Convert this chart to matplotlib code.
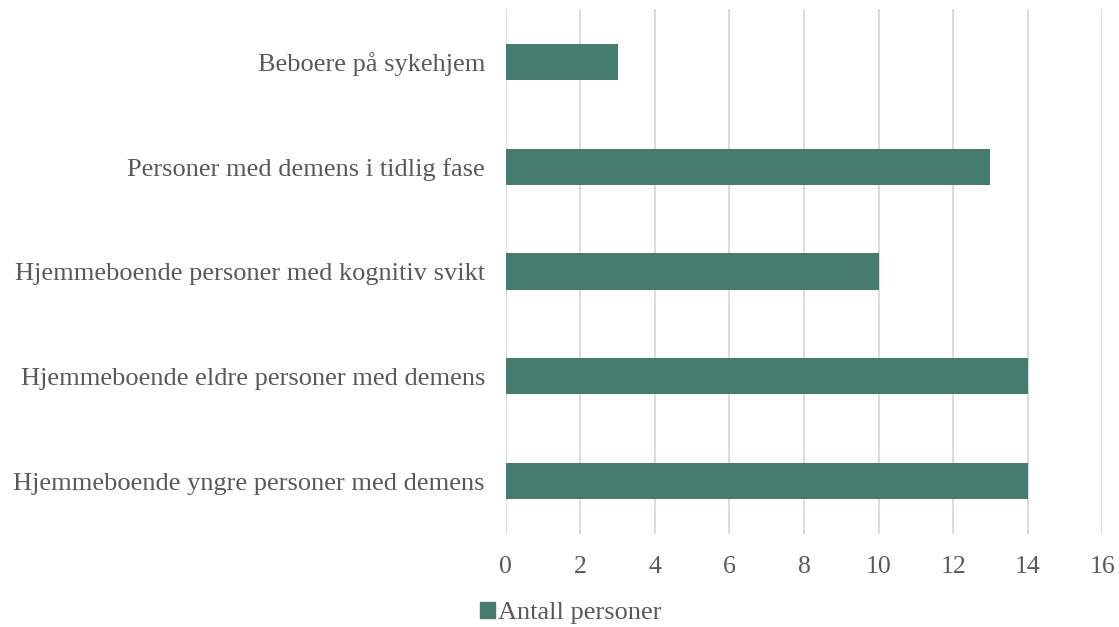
import matplotlib.pyplot as plt
from matplotlib.patches import Patch

plt.rcParams['font.family'] = ['Liberation Serif', 'DejaVu Serif']

categories = [
    'Hjemmeboende yngre personer med demens',
    'Hjemmeboende eldre personer med demens',
    'Hjemmeboende personer med kognitiv svikt',
    'Personer med demens i tidlig fase',
    'Beboere på sykehjem',
]
values = [14, 14, 10, 13, 3]
series_name = 'Antall personer'

bar_color = '#467C70'
text_color = '#595959'
grid_color = '#D9D9D9'

fig = plt.figure(figsize=(11.19, 6.27), dpi=100)
ax = fig.add_axes([0.452, 0.149, 0.533, 0.836])

ax.barh(range(len(categories)), values, height=0.345, color=bar_color, zorder=3)

ax.set_xlim(0, 16)
ax.set_ylim(-0.5, len(categories) - 0.5)
ax.set_xticks(range(0, 17, 2))
ax.set_yticks(range(len(categories)))
ax.set_yticklabels(categories)

ax.grid(axis='x', color=grid_color, linewidth=1.3, zorder=0)
for s in ax.spines.values():
    s.set_visible(False)
ax.tick_params(axis='both', length=0, colors=text_color)
ax.tick_params(axis='y', pad=15, labelsize=19)
ax.tick_params(axis='x', pad=16, labelsize=18.5)

fig.legend(handles=[Patch(color=bar_color, label=series_name)],
           loc='center', bbox_to_anchor=(0.51, 0.022), frameon=False,
           fontsize=19, labelcolor=text_color, handlelength=0.55,
           handleheight=0.55, handletextpad=0.1)

fig.savefig('out.png', dpi=100)
